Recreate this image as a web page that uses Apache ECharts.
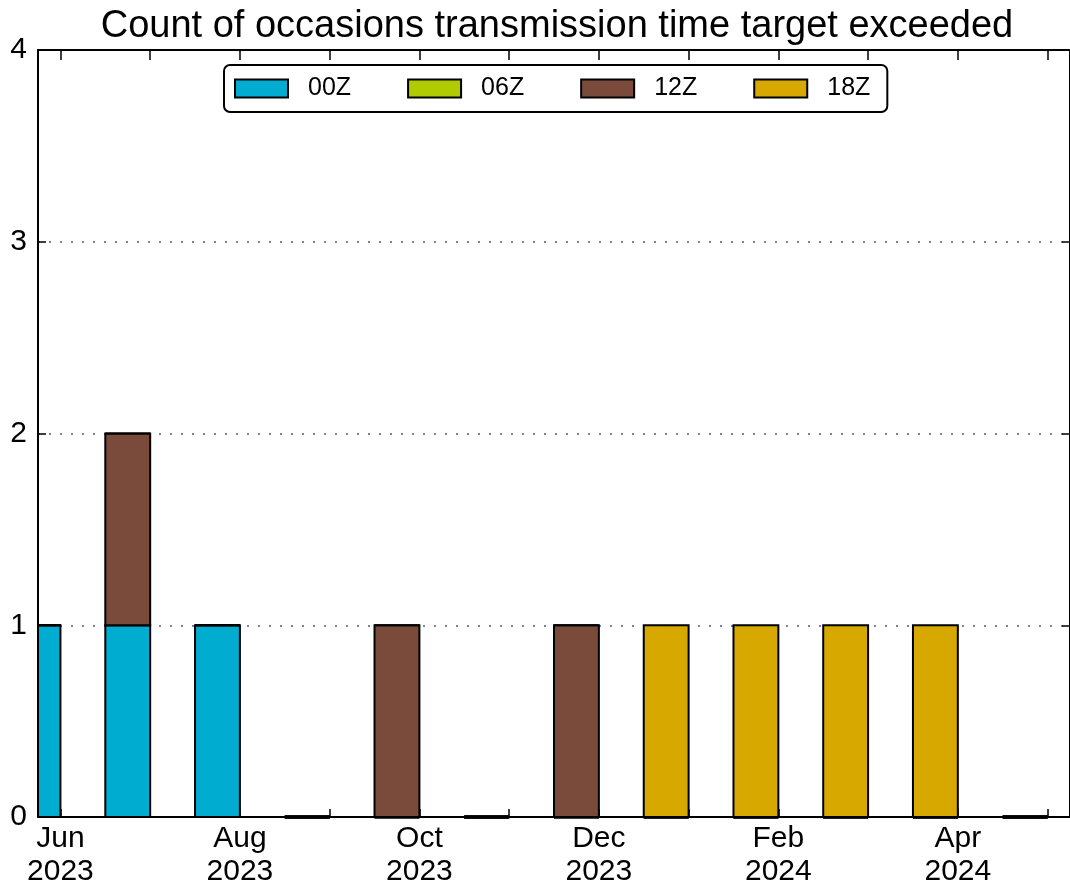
<!DOCTYPE html>
<html>
<head>
<meta charset="utf-8">
<script src="https://cdn.jsdelivr.net/npm/echarts@6/dist/echarts.min.js"></script>
<style>html,body{margin:0;padding:0;background:#fff;}#chart{width:1070px;height:888px;}</style>
</head>
<body>
<div id="chart"></div>
<script>
// Months, index 0 = Jun 2023 ... 11 = May 2024
var months = ['Jun 2023','Jul 2023','Aug 2023','Sep 2023','Oct 2023','Nov 2023','Dec 2023','Jan 2024','Feb 2024','Mar 2024','Apr 2024','May 2024'];
var tickLabelMonths = ['Jun\n2023','Aug\n2023','Oct\n2023','Dec\n2023','Feb\n2024','Apr\n2024'];
var seriesNames = ['00Z','06Z','12Z','18Z'];
var s00Z = [1,1,1,0,0,0,0,0,0,0,0,0];
var s06Z = [0,0,0,0,0,0,0,0,0,0,0,0];
var s12Z = [0,1,0,0,1,0,1,0,0,0,0,0];
var s18Z = [0,0,0,0,0,0,0,1,1,1,1,0];
var colors = ['#00acd0','#b0cb00','#7a4b3b','#d6a800'];
var yTicks = [0,1,2,3,4];

var allSeries = [s00Z, s06Z, s12Z, s18Z];
var base = months.map(function(){return 0;});
var seriesData = allSeries.map(function(vals){
  var d = vals.map(function(v,i){ var b = base[i]; return [i, b, b+v]; });
  vals.forEach(function(v,i){ base[i] += v; });
  return d;
});

var monthIdx = months.map(function(m,i){return i;});
var labelIdx = [0,2,4,6,8,10];

function renderBar(params, api){
  var x = api.value(0), b = api.value(1), t = api.value(2);
  var p1 = api.coord([x - 0.5, t]);
  var p2 = api.coord([x, b]);
  var cs = params.coordSys;
  if (t === b) {
    var x1 = Math.max(p1[0], cs.x), x2 = Math.min(p2[0], cs.x + cs.width);
    if (x2 <= x1) return;
    return {type:'line', shape:{x1:x1, y1:p2[1], x2:x2, y2:p2[1]}, style:{stroke:'#000', lineWidth:b === 0 ? 3 : 2}};
  }
  var rect = echarts.graphic.clipRectByRect({x:p1[0], y:p1[1], width:p2[0]-p1[0], height:p2[1]-p1[1]},
    {x:cs.x, y:cs.y, width:cs.width, height:cs.height});
  if (!rect) return;
  return {type:'rect', shape:rect, style:{fill:api.visual('color'), stroke:'#000', lineWidth:2}};
}

var chart = echarts.init(document.getElementById('chart'));
var font = 'Liberation Sans, Arial, sans-serif';
chart.setOption({
  animation:false,
  backgroundColor:'#fff',
  title:{text:'Count of occasions transmission time target exceeded', left:552, textAlign:'center', top:3,
    textStyle:{fontFamily:font, fontSize:38, fontWeight:'normal', color:'#000'}},
  legend:{left:224, top:65, orient:'horizontal', padding:[11,17,11,10], itemWidth:53, itemHeight:18, itemGap:56,
    borderColor:'#000', borderWidth:2, borderRadius:6, backgroundColor:'#fff',
    textStyle:{fontFamily:font, fontSize:25, color:'#000', padding:[0,0,0,15]},
    data:seriesNames.map(function(n,i){return {name:n, icon:'rect', itemStyle:{color:colors[i], borderColor:'#000', borderWidth:2}};})},
  grid:{left:38, right:-3, top:50, bottom:71, containLabel:false},
  xAxis:[{
    type:'value', position:'bottom', min:-0.25, max:11.25, interval:0.25,
    axisLine:{show:true, onZero:false, lineStyle:{color:'#000', width:2}},
    axisTick:{show:true, inside:true, length:8, customValues:monthIdx, lineStyle:{color:'#000', width:1.5}},
    axisLabel:{show:true, customValues:labelIdx, margin:5, fontFamily:font, fontSize:30, color:'#000', lineHeight:33,
      formatter:function(v){ var k = labelIdx.indexOf(Math.round(v)); return k>=0 ? tickLabelMonths[k] : ''; }},
    splitLine:{show:false}
  },{
    type:'value', position:'top', min:-0.25, max:11.25, interval:0.25,
    axisLine:{show:true, onZero:false, lineStyle:{color:'#000', width:2}},
    axisTick:{show:true, inside:true, length:10, customValues:monthIdx, lineStyle:{color:'#000', width:1.5}},
    axisLabel:{show:false}, splitLine:{show:false}
  }],
  yAxis:[{
    type:'value', min:0, max:4, interval:1, position:'left',
    axisLine:{show:true, onZero:false, lineStyle:{color:'#000', width:2}},
    axisTick:{show:true, inside:true, length:8, lineStyle:{color:'#000', width:1.5}},
    axisLabel:{show:true, margin:11, fontFamily:font, fontSize:30, color:'#000',
      formatter:function(v){ return yTicks.indexOf(v)>=0 ? String(v) : ''; }},
    splitLine:{show:true, lineStyle:{color:'#4858a0', width:1.5, type:[2,9]}}
  },{
    type:'value', min:0, max:4, interval:1, position:'right',
    axisLine:{show:true, onZero:false, lineStyle:{color:'#000', width:2}},
    axisTick:{show:true, inside:true, length:8, lineStyle:{color:'#000', width:1.5}},
    axisLabel:{show:false}, splitLine:{show:false}
  }],
  series:seriesNames.map(function(n,i){
    return {name:n, type:'custom', xAxisIndex:0, yAxisIndex:0, renderItem:renderBar,
      itemStyle:{color:colors[i]}, encode:{x:0, y:2}, data:seriesData[i], z:3};
  })
});
</script>
</body>
</html>
